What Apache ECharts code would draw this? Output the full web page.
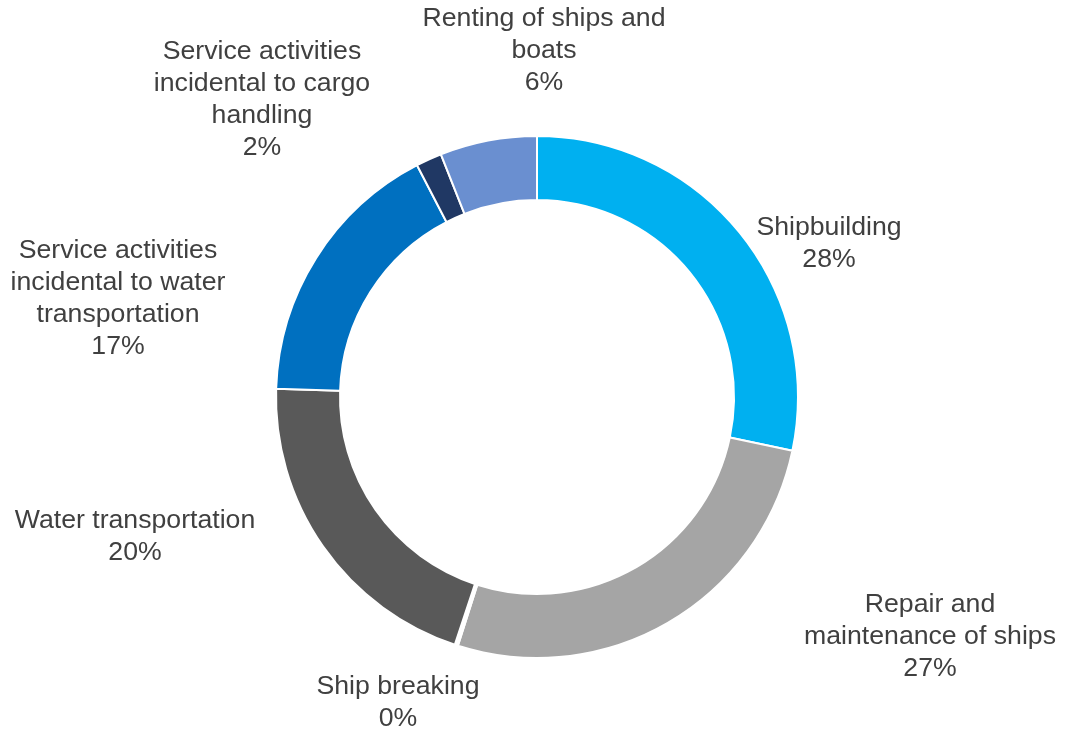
<!DOCTYPE html>
<html>
<head>
<meta charset="utf-8">
<script src="https://cdn.jsdelivr.net/npm/echarts@6/dist/echarts.min.js"></script>
<style>
  html, body { margin: 0; padding: 0; background: #ffffff; }
  #chart { width: 1065px; height: 731px; }
</style>
</head>
<body>
<div id="chart"></div>
<script>
// Shares of maritime activities (percent)
const categories = [
  'Shipbuilding',
  'Repair and\nmaintenance of ships',
  'Ship breaking',
  'Water transportation',
  'Service activities\nincidental to water\ntransportation',
  'Service activities\nincidental to cargo\nhandling',
  'Renting of ships and\nboats'
];
const shares = [28.3, 26.6, 0.2, 20.4, 16.9, 1.6, 6.0];
const sliceColors = ['#00B0F0', '#A5A5A5', '#FFFFFF', '#595959', '#0070C0', '#203864', '#6A8FD0'];

// Label anchor points (centre of each text block)
const labelAnchors = [
  [829, 244],
  [930, 637],
  [398, 703],
  [135, 537],
  [118, 299],
  [262, 100],
  [544, 51]
];

const chart = echarts.init(document.getElementById('chart'), null, { renderer: 'canvas' });

chart.setOption({
  animation: false,
  series: [{
    type: 'pie',
    center: [537, 397],
    radius: [197, 261],
    startAngle: 90,
    clockwise: true,
    avoidLabelOverlap: false,
    minShowLabelAngle: 0,
    itemStyle: { borderColor: '#ffffff', borderWidth: 2 },
    label: {
      show: true,
      position: 'outside',
      color: '#404040',
      fontFamily: '"Liberation Sans", Arial, sans-serif',
      fontSize: 26.67,
      lineHeight: 32,
      align: 'center',
      formatter: p => p.name + '\n' + Math.round(p.value) + '%'
    },
    labelLine: { show: false },
    labelLayout: p => ({
      x: labelAnchors[p.dataIndex][0],
      y: labelAnchors[p.dataIndex][1],
      align: 'center',
      verticalAlign: 'middle'
    }),
    data: categories.map((name, i) => ({
      name: name,
      value: shares[i],
      itemStyle: { color: sliceColors[i] }
    }))
  }]
});
</script>
</body>
</html>
